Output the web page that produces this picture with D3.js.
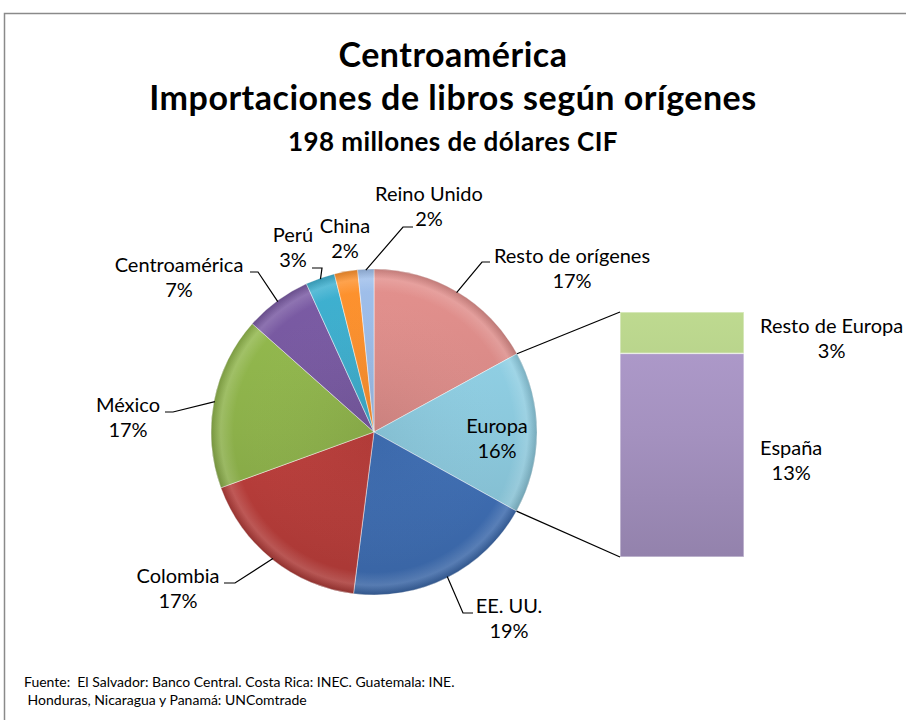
<!DOCTYPE html>
<html>
<head>
<meta charset="utf-8">
<script src="https://cdn.jsdelivr.net/npm/d3@7"></script>
<style>
  body { margin: 0; background: #fff; }
  svg text { font-family: Lato, "Noto Sans", sans-serif; fill: #000; }
</style>
</head>
<body>
<div class="d3-wrapper"></div>
<script>
// Pie slices (percent of 198 M USD CIF), clockwise from 12 o'clock
const pieNames = ['Resto de orígenes', 'Europa', 'EE. UU.', 'Colombia', 'México', 'Centroamérica', 'Perú', 'China', 'Reino Unido'];
const pieShares = [17.0, 16.0, 18.9, 17.4, 17.1, 6.6, 2.9, 2.3, 1.6];
const pieColors = ['#d48784', '#8bc8dc', '#3f6fb5', '#bb3e3b', '#8cb04a', '#73569b', '#3ba6c4', '#f2892b', '#95b3dc'];

// Europa broken down in the bar, bottom to top
const barNames = ['España', 'Resto de Europa'];
const barShares = [13.3, 2.7];
const barColors = ['#a491bf', '#b1cb86'];

const titleLines = ['Centroamérica', 'Importaciones de libros según orígenes'];
const subtitle = '198 millones de dólares CIF';
const sourceLines = ['Fuente:  El Salvador: Banco Central. Costa Rica: INEC. Guatemala: INE.',
  ' Honduras, Nicaragua y Panamá: UNComtrade'];

const WIDTH = 906, HEIGHT = 720;
const PIE = { cx: 374, cy: 432, r: 163 };
const BAR = { x: 620, width: 124, top: 312, bottom: 557 };
const LINE_H = 25;

// label placement relative to pie centre: text centre / first baseline, leader elbow, end of short horizontal
const LABEL_LAYOUT = {
  'Resto de orígenes': { tx: 198, ty: -169, ex: 108, ey: -170, hx: 116 },
  'Europa': { tx: 123, ty: 1 },
  'EE. UU.': { tx: 135, ty: 181, ex: 89, ey: 181, hx: 99 },
  'Colombia': { tx: -196, ty: 151, ex: -139, ey: 151, hx: -150 },
  'México': { tx: -246, ty: -20, ex: -201, ey: -20, hx: -209 },
  'Centroamérica': { tx: -195, ty: -160, ex: -116, ey: -160, hx: -124 },
  'Perú': { tx: -81, ty: -190, ex: -52, ey: -164, hx: -62 },
  'China': { tx: -29, ty: -199 },
  'Reino Unido': { tx: 55, ty: -231, ex: 29, ey: -205, hx: 39 }
};

const total = d3.sum(pieShares);
const pct = d3.format('.0%');

const svg = d3.select('.d3-wrapper').append('svg')
  .attr('width', WIDTH)
  .attr('height', HEIGHT);

const defs = svg.append('defs');

// chart frame
svg.append('rect')
  .attr('x', 4.5).attr('y', 13.5)
  .attr('width', 1000).attr('height', 1000)
  .attr('fill', 'none')
  .attr('stroke', '#8a8a8a')
  .attr('stroke-width', 1.5);

// titles
svg.selectAll('text.title')
  .data(titleLines)
  .enter()
  .append('text')
  .attr('class', 'title')
  .attr('x', WIDTH / 2)
  .attr('y', (d, i) => 67 + i * 43)
  .attr('text-anchor', 'middle')
  .style('font-weight', 700)
  .style('font-size', '34px')
  .style('letter-spacing', '0.5px')
  .text(d => d);

svg.append('text')
  .attr('x', WIDTH / 2)
  .attr('y', 151)
  .attr('text-anchor', 'middle')
  .style('font-weight', 700)
  .style('font-size', '26px')
  .style('letter-spacing', '0.4px')
  .text(subtitle);

// gradients for the bevelled look (coords relative to pie centre / page for bar)
const addGradient = (id, color, y1, y2) => {
  const g = defs.append('linearGradient')
    .attr('id', id)
    .attr('gradientUnits', 'userSpaceOnUse')
    .attr('x1', 0).attr('y1', y1).attr('x2', 0).attr('y2', y2);
  g.append('stop').attr('offset', '0%').attr('stop-color', d3.color(color).brighter(0.2));
  g.append('stop').attr('offset', '50%').attr('stop-color', color);
  g.append('stop').attr('offset', '100%').attr('stop-color', d3.color(color).darker(0.3));
};

pieColors.forEach((c, i) => addGradient('pg' + i, c, -PIE.r, PIE.r));
barColors.forEach((c, i) => addGradient('bg' + i, c, BAR.top, BAR.bottom));

const rim = defs.append('radialGradient')
  .attr('id', 'rim')
  .attr('gradientUnits', 'userSpaceOnUse')
  .attr('cx', 0).attr('cy', 0).attr('r', PIE.r);
rim.append('stop').attr('offset', '0%').attr('stop-color', '#000').attr('stop-opacity', 0.05);
rim.append('stop').attr('offset', '86%').attr('stop-color', '#fff').attr('stop-opacity', 0);
rim.append('stop').attr('offset', '94%').attr('stop-color', '#fff').attr('stop-opacity', 0.15);
rim.append('stop').attr('offset', '100%').attr('stop-color', '#000').attr('stop-opacity', 0.15);

// pie
const pieData = pieNames.map((name, i) => ({ name, value: pieShares[i], color: i }));
const pie = d3.pie().sort(null).value(d => d.value).startAngle(0).endAngle(2 * Math.PI);
const arcs = pie(pieData);
const arc = d3.arc().innerRadius(0).outerRadius(PIE.r);

const pointAt = (angle, r) => [r * Math.sin(angle), -r * Math.cos(angle)];

const slices = svg.append('g').attr('transform', `translate(${PIE.cx}, ${PIE.cy})`);
slices.selectAll('path.slice')
  .data(arcs)
  .enter()
  .append('path')
  .attr('class', 'slice')
  .attr('d', arc)
  .attr('fill', d => `url(#pg${d.data.color})`)
  .attr('stroke', 'rgba(255,255,255,0.45)')
  .attr('stroke-width', 1);

slices.selectAll('path.rim')
  .data(arcs)
  .enter()
  .append('path')
  .attr('class', 'rim')
  .attr('d', arc)
  .attr('fill', 'url(#rim)');

// bar of Europa
const yBar = d3.scaleLinear()
  .domain([0, d3.sum(barShares)])
  .range([BAR.bottom, BAR.top]);
const stacked = d3.cumsum(barShares);
const barData = barNames.map((name, i) => ({ name, value: barShares[i], y0: stacked[i] - barShares[i], y1: stacked[i], color: i }));

svg.selectAll('rect.bar')
  .data(barData)
  .enter()
  .append('rect')
  .attr('class', 'bar')
  .attr('x', BAR.x)
  .attr('y', d => yBar(d.y1))
  .attr('width', BAR.width)
  .attr('height', d => yBar(d.y0) - yBar(d.y1))
  .attr('fill', d => `url(#bg${d.color})`)
  .attr('stroke', 'rgba(255,255,255,0.5)')
  .attr('stroke-width', 1.5);

// connector lines from Europa slice to the bar
const europa = arcs.find(d => d.data.name === 'Europa');
const pStart = pointAt(europa.startAngle, PIE.r);
const pEnd = pointAt(europa.endAngle, PIE.r);
svg.append('line')
  .attr('x1', PIE.cx + pStart[0]).attr('y1', PIE.cy + pStart[1])
  .attr('x2', BAR.x).attr('y2', yBar(d3.sum(barShares)))
  .attr('stroke', '#000').attr('stroke-width', 1.2);
svg.append('line')
  .attr('x1', PIE.cx + pEnd[0]).attr('y1', PIE.cy + pEnd[1])
  .attr('x2', BAR.x).attr('y2', yBar(0))
  .attr('stroke', '#000').attr('stroke-width', 1.2);

// pie labels and leader lines
const labelG = svg.append('g')
  .attr('transform', `translate(${PIE.cx}, ${PIE.cy})`);

arcs.forEach(d => {
  const L = LABEL_LAYOUT[d.data.name];
  const t = labelG.append('text')
    .attr('text-anchor', 'middle')
    .style('font-size', '20px');
  t.append('tspan').attr('x', L.tx).attr('y', L.ty).text(d.data.name);
  t.append('tspan').attr('x', L.tx).attr('y', L.ty + LINE_H).text(pct(d.data.value / total));
  if (L.ex !== undefined) {
    const mid = (d.startAngle + d.endAngle) / 2;
    const p = pointAt(mid, PIE.r - 1);
    labelG.append('polyline')
      .attr('points', [p, [L.ex, L.ey], [L.hx, L.ey]].map(q => q.join(',')).join(' '))
      .attr('fill', 'none')
      .attr('stroke', '#000')
      .attr('stroke-width', 1.2);
  }
});

// bar labels: left edge after the bar, lines centred on each other
barData.forEach(d => {
  const yMid = (yBar(d.y0) + yBar(d.y1)) / 2;
  const t = svg.append('text')
    .attr('text-anchor', 'middle')
    .style('font-size', '20px');
  const l1 = t.append('tspan').attr('y', yMid).text(d.name);
  const l2 = t.append('tspan').attr('y', yMid + LINE_H).text(pct(d.value / total));
  const w = Math.max(l1.node().getComputedTextLength(), l2.node().getComputedTextLength());
  const cx = BAR.x + BAR.width + 16 + w / 2;
  l1.attr('x', cx);
  l2.attr('x', cx);
});

// source note
svg.selectAll('text.source')
  .data(sourceLines)
  .enter()
  .append('text')
  .attr('class', 'source')
  .attr('x', 24)
  .attr('y', (d, i) => 687 + i * 18)
  .style('font-size', '14px')
  .attr('xml:space', 'preserve')
  .text(d => d);
</script>
</body>
</html>
